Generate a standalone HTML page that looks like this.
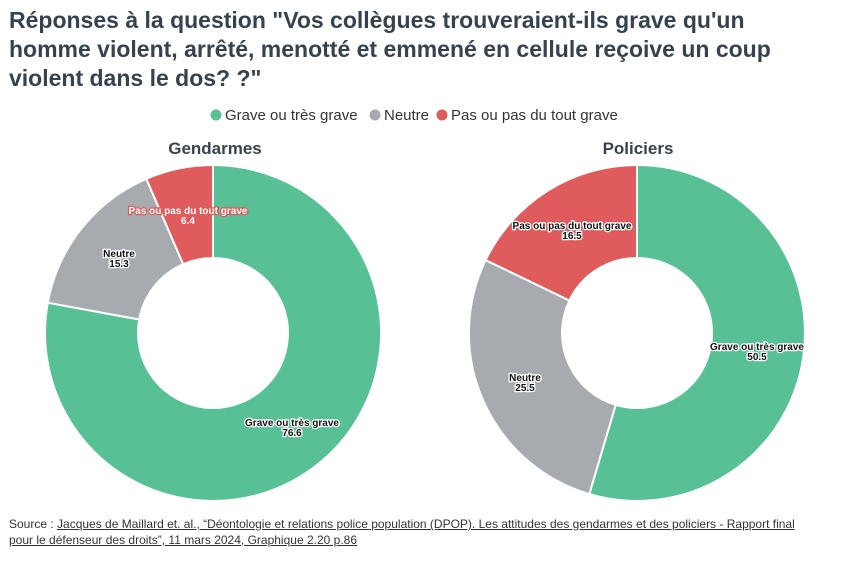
<!DOCTYPE html>
<html><head><meta charset="utf-8"><style>
body{margin:0;width:850px;height:576px;background:#fff;font-family:"Liberation Sans",sans-serif;overflow:hidden}
.t{position:absolute;left:9px;top:6px;font-size:23px;font-weight:bold;color:#36434f;line-height:29px;width:840px;white-space:nowrap}
.src{position:absolute;left:9px;top:516px;font-size:12px;color:#333;line-height:16px}
.src u{color:#333}
</style></head><body>
<div class="t">Réponses à la question "Vos collègues trouveraient-ils grave qu'un<br>homme violent, arrêté, menotté et emmené en cellule reçoive un coup<br>violent dans le dos? ?"</div>
<svg width="850" height="576" style="position:absolute;left:0;top:0" font-family="Liberation Sans, sans-serif">
<g font-size="15" fill="#333">
<circle cx="216" cy="115" r="5.5" fill="#57c195"/><text x="225" y="120">Grave ou très grave</text>
<circle cx="375" cy="115" r="5.5" fill="#a7aaae"/><text x="384" y="120">Neutre</text>
<circle cx="442" cy="115" r="5.5" fill="#e05c5c"/><text x="451" y="120">Pas ou pas du tout grave</text>
</g>
<g font-size="17" font-weight="bold" fill="#36434f" text-anchor="middle">
<text x="215" y="154">Gendarmes</text><text x="638" y="154">Policiers</text>
</g>
<g stroke="#fff" stroke-width="2">
<path d="M213,165 A168,168 0 1,1 47.8,302.7 L139.2,319.5 A75,75 0 1,0 213,258 Z" fill="#57c195"/>
<path d="M47.8,302.7 A168,168 0 0,1 146.3,178.8 L183.2,264.2 A75,75 0 0,0 139.2,319.5 Z" fill="#a7aaae"/>
<path d="M146.3,178.8 A168,168 0 0,1 213,165 L213,258 A75,75 0 0,0 183.2,264.2 Z" fill="#e05c5c"/>
<path d="M637,165 A168,168 0 1,1 589.3,494.1 L615.7,404.9 A75,75 0 1,0 637,258 Z" fill="#57c195"/>
<path d="M589.3,494.1 A168,168 0 0,1 485.6,260.1 L569.4,300.5 A75,75 0 0,0 615.7,404.9 Z" fill="#a7aaae"/>
<path d="M485.6,260.1 A168,168 0 0,1 637,165 L637,258 A75,75 0 0,0 569.4,300.5 Z" fill="#e05c5c"/>
</g>
<g font-size="10" font-weight="bold" fill="#111" text-anchor="middle" stroke="#fff" stroke-width="2.5" paint-order="stroke">
<text x="292" y="426">Grave ou très grave</text><text x="292" y="436">76.6</text>
<text x="119" y="257">Neutre</text><text x="119" y="267">15.3</text>
<text x="188" y="214" fill="#fff" stroke="#e05c5c">Pas ou pas du tout grave</text><text x="188" y="224" fill="#fff" stroke="#e05c5c">6.4</text>
<text x="757" y="350">Grave ou très grave</text><text x="757" y="360">50.5</text>
<text x="525" y="381">Neutre</text><text x="525" y="391">25.5</text>
<text x="572" y="229">Pas ou pas du tout grave</text><text x="572" y="239">16.5</text>
</g>
</svg>
<div class="src">Source : <u>Jacques de Maillard et. al., “Déontologie et relations police population (DPOP). Les attitudes des gendarmes et des policiers - Rapport final<br>pour le défenseur des droits”, 11 mars 2024, Graphique 2.20 p.86</u></div>
</body></html>
